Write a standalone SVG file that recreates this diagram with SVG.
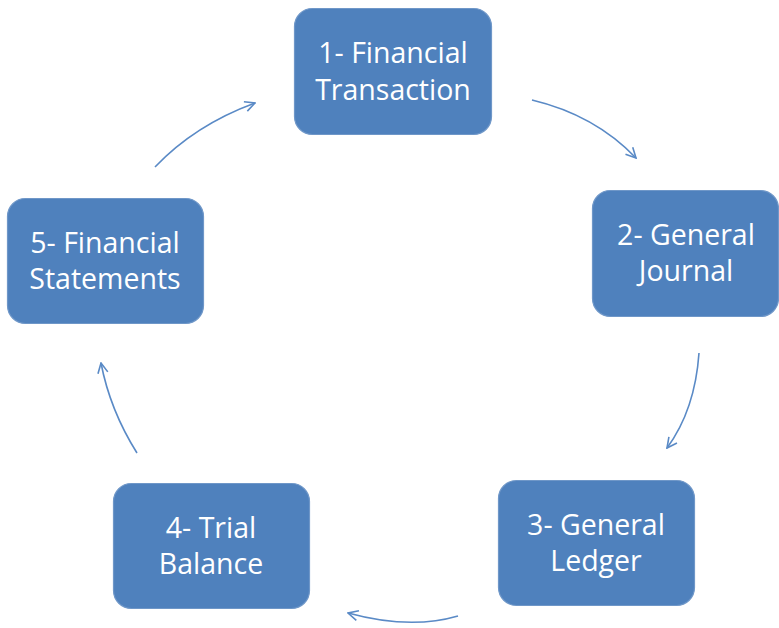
<svg xmlns="http://www.w3.org/2000/svg" width="779" height="628" viewBox="0 0 779 628">
<defs>
<style>
.box{fill:#4f81bd;stroke:#6f97c8;stroke-width:1.2}
.lbl{font-family:"Open Sans","Liberation Sans",sans-serif;font-size:28.5px;fill:#ffffff;text-anchor:middle}
.arr{fill:none;stroke:#5a8ac6;stroke-width:1.6;marker-end:url(#ah)}
</style>
<marker id="ah" viewBox="0 0 12 12" refX="11" refY="6" markerWidth="12" markerHeight="12" markerUnits="userSpaceOnUse" orient="auto">
<path d="M1,1 L11,6 L1,11" fill="none" stroke="#5a8ac6" stroke-width="1.6"/>
</marker>
</defs>
<rect width="779" height="628" fill="#ffffff"/>
<g id="connectors">
<path class="arr" d="M532,100 Q595,115 636,158"/>
<path class="arr" d="M699,353 Q695,410 667,448"/>
<path class="arr" d="M458,616 Q410,630 348,613"/>
<path class="arr" d="M137,453 Q110,410 101,363"/>
<path class="arr" d="M155,167 Q195,125 255,103"/>
</g>
<g id="n1">
<rect class="box" x="294.5" y="8.5" width="197" height="126" rx="18"/>
<text class="lbl" x="393" y="63">1- Financial</text>
<text class="lbl" x="393" y="100">Transaction</text>
</g>
<g id="n2">
<rect class="box" x="592.5" y="190.5" width="186" height="126" rx="18"/>
<text class="lbl" x="686" y="245">2- General</text>
<text class="lbl" x="686" y="281">Journal</text>
</g>
<g id="n3">
<rect class="box" x="498.5" y="480.5" width="196" height="125" rx="18"/>
<text class="lbl" x="596" y="535">3- General</text>
<text class="lbl" x="596" y="571">Ledger</text>
</g>
<g id="n4">
<rect class="box" x="113.5" y="483.5" width="196" height="125" rx="18"/>
<text class="lbl" x="211" y="538">4- Trial</text>
<text class="lbl" x="211" y="574">Balance</text>
</g>
<g id="n5">
<rect class="box" x="7.5" y="198.5" width="196" height="125" rx="18"/>
<text class="lbl" x="105" y="253">5- Financial</text>
<text class="lbl" x="105" y="289">Statements</text>
</g>
</svg>
